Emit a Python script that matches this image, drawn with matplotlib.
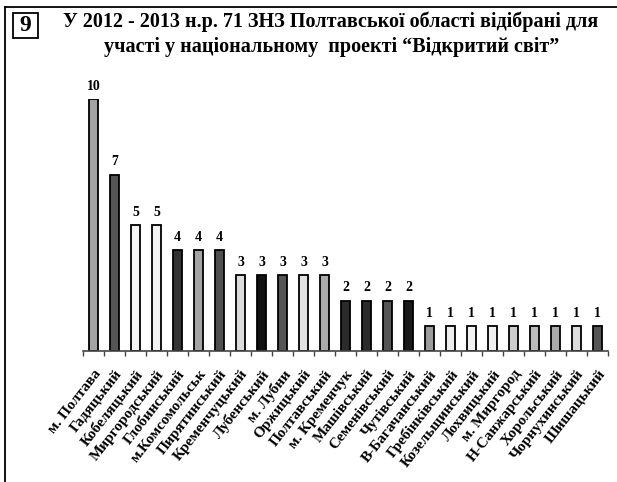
import numpy as np
import matplotlib.pyplot as plt
from matplotlib.lines import Line2D
from matplotlib.patches import Rectangle

# Districts and number of schools in the project
districts = ["м. Полтава", "Гадяцький", "Кобеляцький", "Миргородський",
             "Глобинський", "м.Комсомольськ", "Пирятинський", "Кременчуцький",
             "Лубенський", "м. Лубни", "Оржицький", "Полтавський",
             "м. Кременчук", "Машівський", "Семенівський", "Чутівський",
             "В-Багачанський", "Гребінківський", "Козельщинський", "Лохвицький",
             "м. Миргород", "Н-Санжарський", "Хорольський", "Чорнухинський",
             "Шишацький"]
schools = [10, 7, 5, 5, 4, 4, 4, 3, 3, 3, 3, 3, 2, 2, 2, 2,
           1, 1, 1, 1, 1, 1, 1, 1, 1]

bar_colors = ["#a4a4a4", "#555555", "#f6f6f6", "#f2f2f2", "#333333", "#a4a4a4",
              "#4f4f4f", "#dcdcdc", "#111111", "#555555", "#e2e2e2", "#ababab",
              "#2b2b2b", "#2b2b2b", "#555555", "#1a1a1a", "#9c9c9c", "#eeeeee",
              "#f2f2f2", "#f0f0f0", "#cccccc", "#bbbbbb", "#aaaaaa", "#dddddd",
              "#555555"]

W, H = 617, 482
fig = plt.figure(figsize=(W / 100, H / 100), dpi=100)
serif = "Liberation Serif"

# axes placed so baseline / top line up with the scan
ax = fig.add_axes([83 / W, (H - 351) / H, 525 / W, 252 / H])
x = np.arange(len(districts))
ax.bar(x, schools, width=0.43, color=bar_colors, edgecolor="black", linewidth=1.3)
ax.set_xlim(-0.5, len(districts) - 0.5)
ax.set_ylim(0, 10)

for xi, v in zip(x, schools):
    ax.annotate(str(v), (xi, v), xytext=(0, 4.5), textcoords="offset points",
                ha="center", va="bottom", fontsize=10, fontweight="bold",
                family=serif, annotation_clip=False)

for s in ["left", "right", "top"]:
    ax.spines[s].set_visible(False)
ax.spines["bottom"].set_linewidth(1.2)
ax.spines["bottom"].set_color("#444444")
ax.set_yticks([])

ax.set_xticks(x)
ax.set_xticklabels(districts, rotation=52, ha="right", va="top",
                   rotation_mode="anchor", fontsize=11, fontweight="bold",
                   family=serif)
ax.tick_params(axis="x", which="major", length=0, pad=12)
ax.set_xticks(np.arange(-0.5, len(districts)), minor=True)
ax.tick_params(axis="x", which="minor", length=3.5, width=1, color="#444444")

# outer frame (top and left edges) and the number box
fig.add_artist(Line2D([5 / W, 5 / W], [0, 1 - 7 / H], transform=fig.transFigure,
                      color="black", linewidth=1.3))
fig.add_artist(Line2D([5 / W, 1], [1 - 7 / H, 1 - 7 / H], transform=fig.transFigure,
                      color="black", linewidth=1.3))
fig.add_artist(Rectangle((13 / W, 1 - 38 / H), 25 / W, 25 / H, transform=fig.transFigure,
                         fill=False, edgecolor="black", linewidth=1.3))
fig.text(25.5 / W, 1 - 25.5 / H, "9", ha="center", va="center", fontsize=17,
         family=serif, fontweight="bold")

fig.text(331 / W, 1 - 22 / H,
         "У 2012 - 2013 н.р. 71 ЗНЗ Полтавської області відібрані для",
         ha="center", va="center", fontsize=14.5, family=serif, fontweight="bold")
fig.text(332 / W, 1 - 47 / H,
         "участі у національному  проекті “Відкритий світ”",
         ha="center", va="center", fontsize=14.5, family=serif, fontweight="bold")

fig.savefig("out.png", dpi=100)
